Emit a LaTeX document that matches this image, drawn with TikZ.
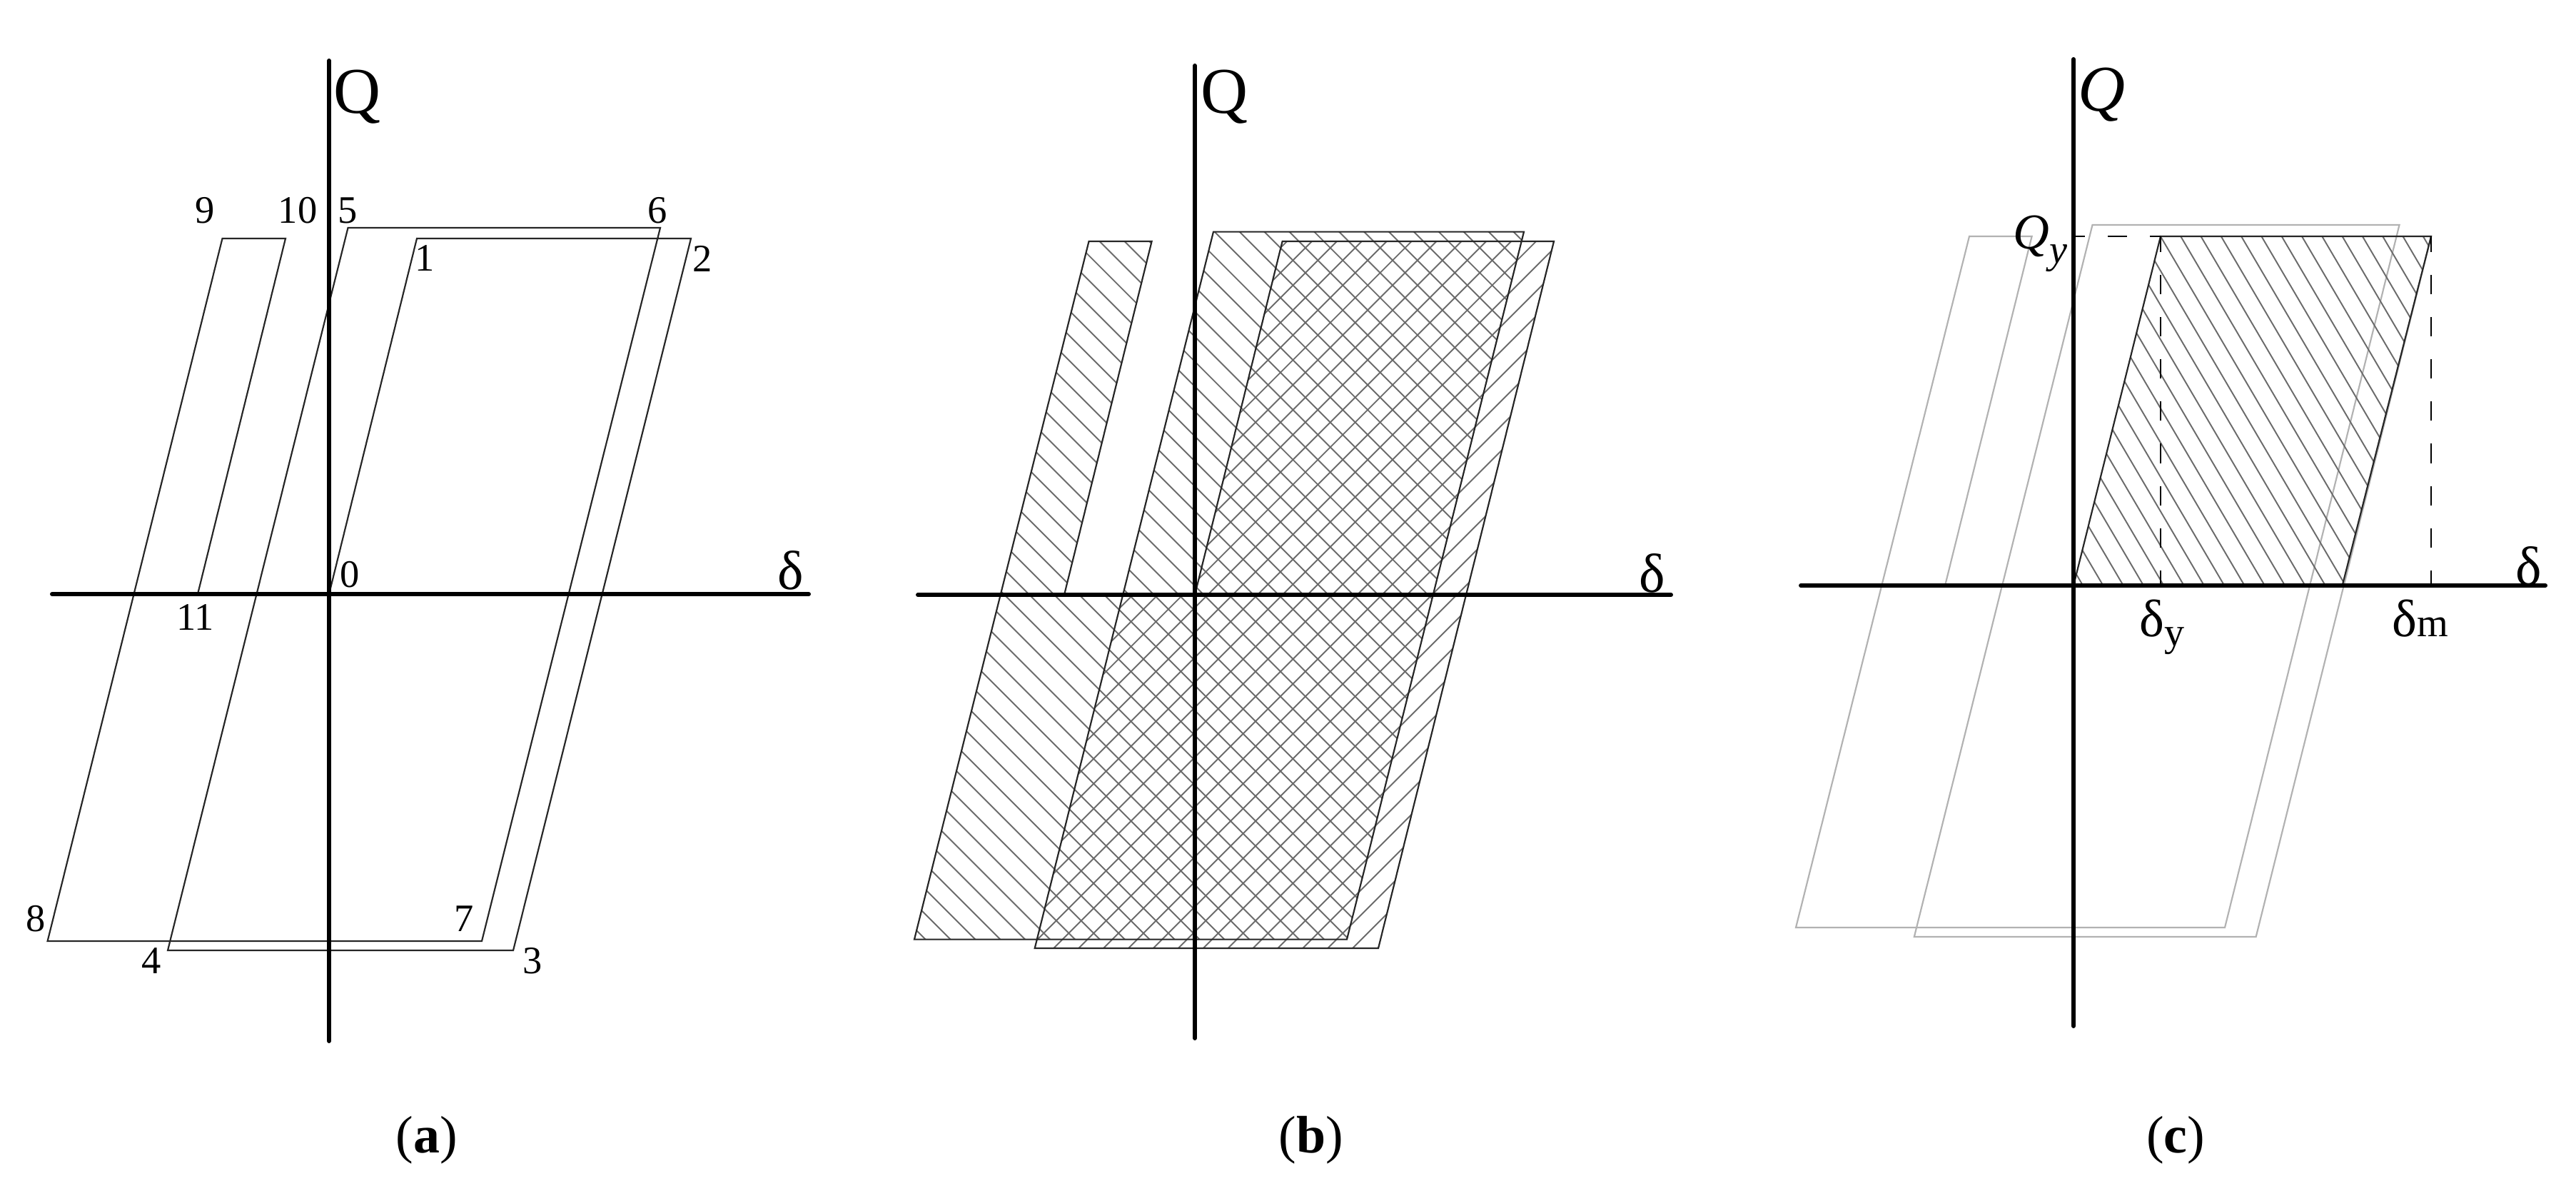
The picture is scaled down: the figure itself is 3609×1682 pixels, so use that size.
\documentclass[tikz,border=0pt]{standalone}
\usepackage{fontspec}
\setmainfont{Liberation Serif}
\tikzstyle{axisline}=[line width=1.7pt,line cap=round]
\tikzstyle{loopline}=[line width=0.62pt,black!85,line join=miter]
\tikzstyle{greyline}=[line width=0.62pt,black!30,line join=miter]
\tikzstyle{hatchline}=[line width=0.55pt,black!58]
\tikzstyle{dimline}=[line width=0.6pt,black]
\tikzstyle{numlabel}=[font=\fontsize{15.5}{15.5}\selectfont,inner sep=0pt]
\tikzstyle{axislabel}=[font=\fontsize{26}{26}\selectfont,inner sep=0pt]
\tikzstyle{deltalabel}=[font=\fontsize{22}{22}\selectfont,inner sep=0pt]
\tikzstyle{sublabel}=[font=\fontsize{21}{21}\selectfont,inner sep=0pt,anchor=base west]
\tikzstyle{panellabel}=[font=\fontsize{21}{21}\selectfont,inner sep=0pt]
\newcommand{\lowsub}[2]{\raisebox{#1}{\fontsize{16}{16}\selectfont #2}}
\begin{document}
\begin{tikzpicture}[x=0.01cm,y=-0.01cm]
\useasboundingbox (0,0) rectangle (3609,1682);

%Panel a
    \foreach \px/\py/\name in {461/832/a0,584/334/a1,968/334/a2,719/1331/a3,235/1331/a4,487.5/319/a5,925/319/a6,675/1318/a7,66.6/1318/a8,311.5/334/a9,400/334/a10,277/832/a11,461/85/aT,461/1458/aB,73/832/aL,1133/832/aR}
        \coordinate (\name) at (\px,\py);

    \draw[loopline] (a0)--(a1)--(a2)--(a3)--(a4)--(a5)--(a6)--(a7)--(a8)--(a9)--(a10)--(a11);
    \draw[axisline] (aT) -- (aB);
    \draw[axisline] (aL) -- (aR);

    \foreach \pos/\name/\txt in {{(490,805)/an0/0},{(595,362)/an1/1},{(984,362)/an2/2},{(746,1346)/an3/3},{(212,1346)/an4/4},{(487,295)/an5/5},{(921,295)/an6/6},{(650,1287)/an7/7},{(50,1287)/an8/8},{(287,295)/an9/9},{(417,295)/an10/10},{(274,864)/an11/11}}
        \node[numlabel] (\name) at \pos {\txt};
    \node[axislabel] (aQ) at (501,136) {Q};
    \node[deltalabel] (adelta) at (1108,799) {δ};
    \node[panellabel] (acap) at (598,1597) {(\textbf{a})};

%Panel b
    \foreach \px/\py/\name in {1674/833/b0,1796.6/338/b1,2177/338/b2,1931/1328/b3,1449.7/1328/b4,1700/324.6/b5,2135/324.6/b6,1887/1315.6/b7,1281/1315.6/b8,1525.5/338/b9,1613.6/338/b10,1491/833/b11,1573/833/bX,1674/92/bT,1674/1454/bB,1286/833/bL,2341/833/bR}
        \coordinate (\name) at (\px,\py);

    % second loop, falling lines
    \begin{scope}
        \clip (b5)--(b6)--(b7)--(b8)--(b9)--(b10)--(b11)--(bX)--cycle;
        \foreach \k in {-1,...,54}
            \draw[hatchline] ({-19+\k*34.9+300},300) -- ({-19+\k*34.9+1350},1350);
    \end{scope}
    % first loop, rising lines
    \begin{scope}
        \clip (b0)--(b1)--(b2)--(b3)--(b4)--(bX)--cycle;
        \foreach \k in {-32,...,2}
            \draw[hatchline] ({3223+\k*34.9-300},300) -- ({3223+\k*34.9-1350},1350);
    \end{scope}

    \draw[loopline] (b0)--(b1)--(b2)--(b3)--(b4)--(b5)--(b6)--(b7)--(b8)--(b9)--(b10)--(b11);
    \draw[axisline] (bT) -- (bB);
    \draw[axisline] (bL) -- (bR);

    \node[axislabel] (bQ) at (1715,136) {Q};
    \node[deltalabel] (bdelta) at (2315,803) {δ};
    \node[panellabel] (bcap) at (1837,1597) {(\textbf{b})};

%Panel c
    \foreach \px/\py/\name in {2905/820/c0,3027/331/c1,3406/331/c2,3160.6/1312/c3,2681.8/1312/c4,2931.5/315/c5,3361.5/315/c6,3117/1299/c7,2516/1299/c8,2759/331/c9,2846.6/331/c10,2725/820/c11,3281.6/820/cX,2905/83/cT,2905/1437/cB,2523/820/cL,3566/820/cR,2905/331/cY,3027/820/cdy,3406/820/cdm}
        \coordinate (\name) at (\px,\py);

    \draw[greyline] (c2)--(c3)--(c4)--(c5)--(c6)--(c7)--(c8)--(c9)--(c10)--(c11);
    \begin{scope}
        \clip (c0)--(c1)--(c2)--(cX)--cycle;
        \foreach \k in {-16,...,13}
            \draw[hatchline] ({2860.5+\k*28.3+0.588*300},300) -- ({2860.5+\k*28.3+0.588*850},850);
    \end{scope}
    \draw[loopline] (c0)--(c1)--(c2)--(cX);
    \draw[dimline,dash pattern=on 7.7pt off 9.1pt,dash phase=3.1pt] (cY) -- (c1);
    \draw[dimline,dash pattern=on 7.7pt off 9.1pt,dash phase=1.4pt] (c1) -- (cdy);
    \draw[dimline,dash pattern=on 7.7pt off 9.1pt,dash phase=1.4pt] (c2) -- (cdm);
    \draw[axisline] (cT) -- (cB);
    \draw[axisline] (cL) -- (cR);

    \node[axislabel] (cQ) at (2944,133) {\textit{Q}};
    \node[sublabel,font=\fontsize{20}{20}\selectfont] (cQy) at (2820,348) {\textit{Q\lowsub{-5.7pt}{y}}};
    \node[deltalabel] (cdelta) at (3543,793) {δ};
    \node[sublabel] (cdeltay) at (2997,891) {δ\lowsub{-3.7pt}{y}};
    \node[sublabel] (cdeltam) at (3351,891) {δ\lowsub{0pt}{m}};
    \node[panellabel] (ccap) at (3048,1597) {(\textbf{c})};

\end{tikzpicture}
\end{document}
